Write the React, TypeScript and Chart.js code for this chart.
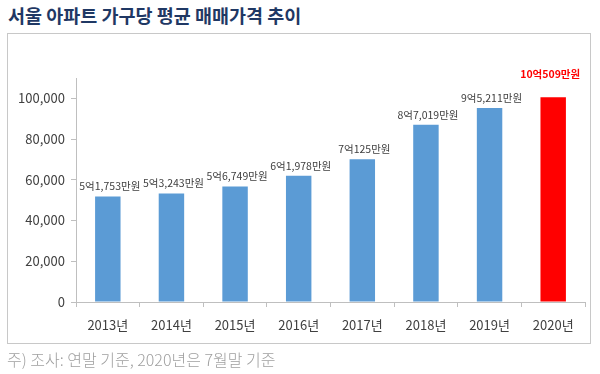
import React, { useEffect, useRef } from "react";
import { Chart, registerables } from "chart.js";

Chart.register(...registerables);

const titleText = "서울 아파트 가구당 평균 매매가격 추이";
const footnoteText = "주) 조사: 연말 기준, 2020년은 7월말 기준";
const categories = ["2013년", "2014년", "2015년", "2016년", "2017년", "2018년", "2019년", "2020년"];
const prices = [51753, 53243, 56749, 61978, 70125, 87019, 95211, 100509];
const valueLabels = [
  "5억1,753만원",
  "5억3,243만원",
  "5억6,749만원",
  "6억1,978만원",
  "7억125만원",
  "8억7,019만원",
  "9억5,211만원",
  "10억509만원",
];
const yTickValues = [0, 20000, 40000, 60000, 80000, 100000];
const highlightIndex = 7;

const FONT = "'Noto Sans CJK KR', 'Noto Sans', sans-serif";
const BLUE = "#5b9bd5";
const RED = "#ff0000";
const TEXT = "#404040";
const AXIS = "#bfbfbf";

const labelPlugin = {
  id: "valueLabels",
  afterDatasetsDraw(chart: any) {
    const ctx = chart.ctx;
    const meta = chart.getDatasetMeta(0);
    meta.data.forEach((bar: any, i: number) => {
      const hi = i === highlightIndex;
      ctx.save();
      ctx.font = (hi ? "bold " : "") + "10.5px " + FONT;
      ctx.fillStyle = hi ? RED : TEXT;
      ctx.textAlign = "center";
      ctx.textBaseline = "bottom";
      ctx.fillText(valueLabels[i], bar.x + (hi ? -3 : 2), bar.y - (hi ? 18 : 5));
      ctx.restore();
    });
  },
};

export default function App() {
  const canvasRef = useRef<HTMLCanvasElement | null>(null);

  useEffect(() => {
    if (!canvasRef.current) return;
    const chart = new Chart(canvasRef.current, {
      type: "bar",
      data: {
        labels: categories,
        datasets: [
          {
            data: prices,
            backgroundColor: prices.map((_, i) => (i === highlightIndex ? RED : BLUE)),
            borderWidth: 0,
            categoryPercentage: 1,
            barPercentage: 0.4,
          },
        ],
      },
      options: {
        animation: false,
        responsive: false,
        maintainAspectRatio: false,
        devicePixelRatio: 1,
        layout: { padding: { left: 0, right: 15, top: 78, bottom: 0 } },
        plugins: {
          legend: { display: false },
          tooltip: { enabled: false },
          title: { display: false },
        },
        scales: {
          x: {
            grid: {
              display: true,
              drawOnChartArea: false,
              drawTicks: true,
              tickLength: 5,
              color: AXIS,
              offset: true,
            },
            border: { display: true, color: AXIS, width: 1 },
            ticks: {
              color: TEXT,
              font: { family: FONT, size: 13 },
              padding: 10,
              maxRotation: 0,
            },
            afterFit(scale: any) {
              scale.height = 72;
            },
          },
          y: {
            min: 0,
            max: 110000,
            grid: {
              display: true,
              drawOnChartArea: false,
              drawTicks: true,
              tickLength: 5,
              color: AXIS,
            },
            border: { display: true, color: AXIS, width: 1 },
            ticks: {
              stepSize: 20000,
              color: TEXT,
              font: { family: FONT, size: 13 },
              padding: 6,
              callback: (v: any) => Number(v).toLocaleString("en-US"),
            },
            afterBuildTicks(scale: any) {
              scale.ticks = yTickValues.map((v) => ({ value: v }));
            },
            afterFit(scale: any) {
              scale.width = 76;
            },
          },
        },
      },
      plugins: [labelPlugin],
    });
    return () => chart.destroy();
  }, []);

  return (
    <div style={{ position: "absolute", left: 0, top: 0, width: 600, height: 374, background: "#fff", fontFamily: FONT }}>
      <div
        style={{
          position: "absolute",
          left: 8,
          top: 3,
          fontSize: 18.5,
          fontWeight: "bold",
          color: "#1f3864",
          whiteSpace: "nowrap",
          lineHeight: "24px",
        }}
      >
        {titleText}
      </div>
      <div
        style={{
          position: "absolute",
          left: 7,
          top: 33,
          width: 584,
          height: 311,
          border: "1px solid #c8c8c8",
          boxSizing: "border-box",
        }}
      />
      <canvas
        ref={canvasRef}
        width={600}
        height={374}
        style={{ position: "absolute", left: 0, top: 0, width: 600, height: 374 }}
      />
      <div
        style={{
          position: "absolute",
          left: 7,
          top: 348,
          fontSize: 16,
          fontWeight: 300,
          color: "#a0a0a0",
          whiteSpace: "nowrap",
          lineHeight: "22px",
        }}
      >
        {footnoteText}
      </div>
    </div>
  );
}
